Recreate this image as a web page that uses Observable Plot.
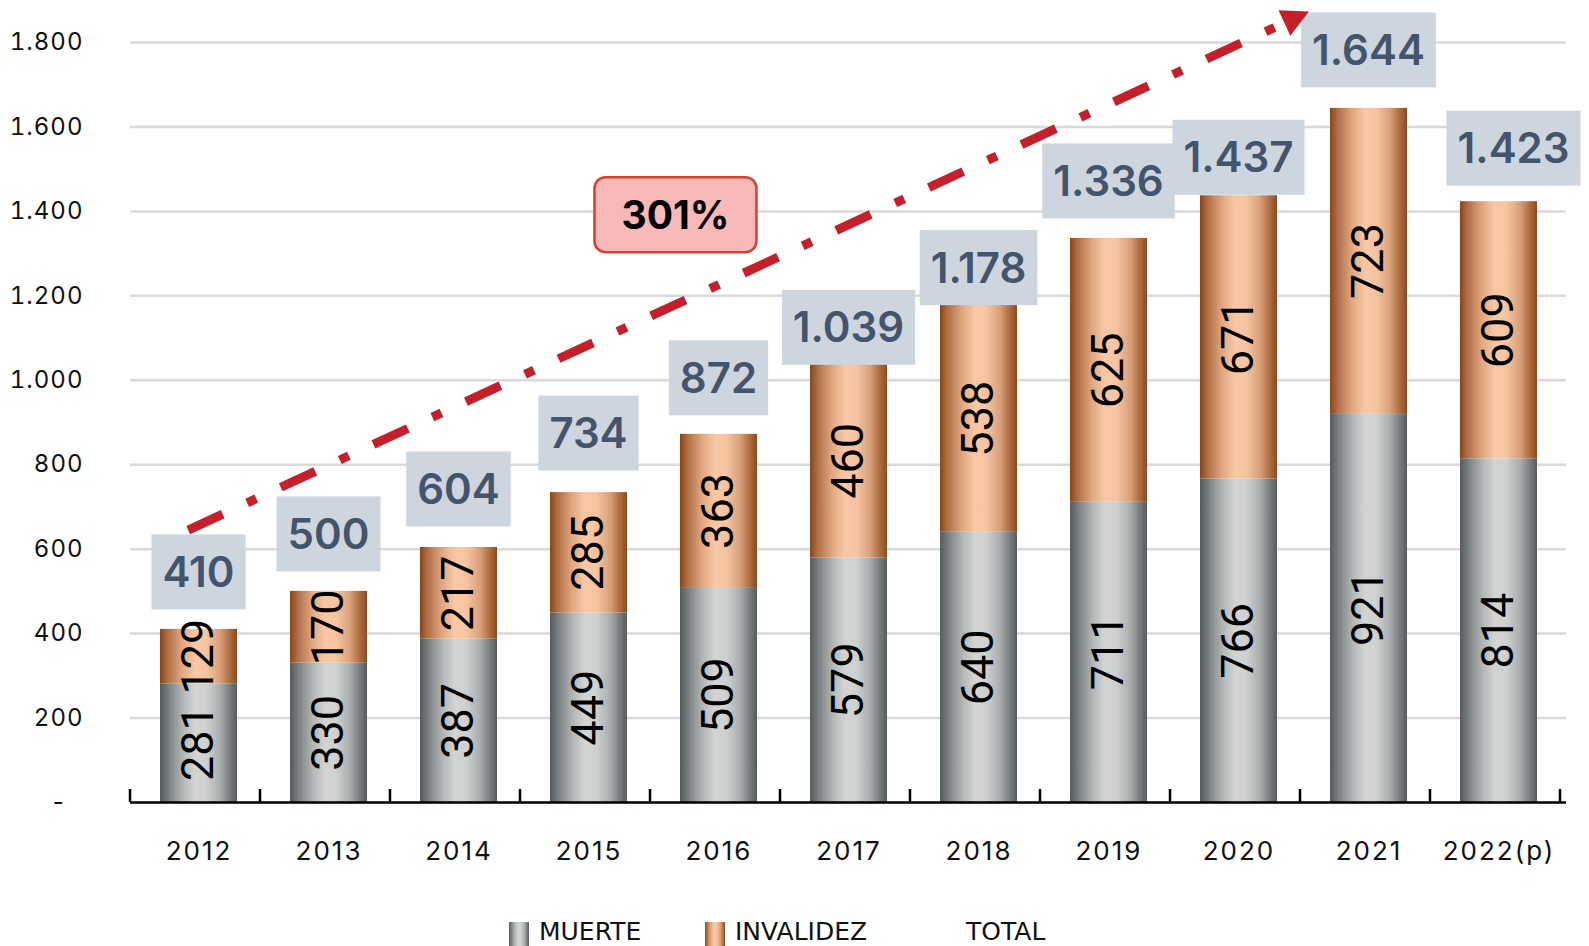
<!DOCTYPE html>
<html>
<head>
<meta charset="utf-8">
<script src="https://cdn.jsdelivr.net/npm/d3@7"></script>
<script src="https://cdn.jsdelivr.net/npm/@observablehq/plot@0.6"></script>
<style>
  html, body { margin: 0; padding: 0; background: #fff; }
  body { width: 1589px; height: 946px; overflow: hidden; position: relative; font-family: Inter, "Open Sans", sans-serif; }
  #chart svg { display: block; }
  g[aria-label="x-axis tick label"] text { letter-spacing: 2px; }
  g[aria-label="y-axis tick label"] text { letter-spacing: 1px; }
  #legend { position: absolute; left: 0; top: 919px; width: 1589px; height: 30px; }
  .lg-item { position: absolute; top: 0; height: 30px; display: flex; align-items: flex-start; }
  .lg-sw { width: 20px; height: 24px; margin-top: 3px; margin-right: 10px; }
  .lg-tx { font-family: "DejaVu Sans", sans-serif; font-size: 25px; line-height: 25px; color: #111; }
</style>
</head>
<body>
<div id="chart"></div>
<div id="legend"></div>
<script>
// ---------- data ----------
const years = ["2012", "2013", "2014", "2015", "2016", "2017", "2018", "2019", "2020", "2021", "2022(p)"];
const muerte = [281, 330, 387, 449, 509, 579, 640, 711, 766, 921, 814];
const invalidez = [129, 170, 217, 285, 363, 460, 538, 625, 671, 723, 609];
const totals = [410, 500, 604, 734, 872, 1039, 1178, 1336, 1437, 1644, 1423];
const yTicks = [0, 200, 400, 600, 800, 1000, 1200, 1400, 1600, 1800];
const legendLabels = ["MUERTE", "INVALIDEZ", "TOTAL"];
const growthText = "301%";
// annotation anchors (category, fraction of a category step from its centre, value)
const arrowStart = {year: "2012", offset: -0.079, value: 644};
const arrowEnd = {year: "2021", offset: -0.458, value: 1872};
const growthAt = {year: "2016", offset: -0.331, value: 1391};

// ---------- layout (pixels, as placed in the original) ----------
const totalLabelGap = [57, 57, 58, 59, 56, 36, 37, 57, 38, 58, 53];
const totalLabelShift = [0, 0, 0, 0, 0, 0, 0, 0, 0, 0, 15];

// ---------- helpers ----------
const NS = "http://www.w3.org/2000/svg";
function el(tag, attrs = {}, text) {
  const e = document.createElementNS(NS, tag);
  for (const k in attrs) e.setAttribute(k, attrs[k]);
  if (text != null) e.textContent = text;
  return e;
}
const fmt = d3.formatLocale({decimal: ",", thousands: ".", grouping: [3], currency: ["", ""]}).format(",d");
const measureCtx = document.createElement("canvas").getContext("2d");

const rows = years.map((year, i) => ({year, muerte: muerte[i], invalidez: invalidez[i], total: totals[i], i}));

const grayStops = [[0, "#545b5d"], [0.12, "#7d8385"], [0.3, "#b3b7b7"], [0.45, "#d2d4d3"], [0.6, "#cfd1d0"], [0.78, "#a9adad"], [0.9, "#7a8082"], [1, "#555c5e"]];
const copperStops = [[0, "#8a4618"], [0.1, "#b06f45"], [0.28, "#dfa57f"], [0.45, "#f8c8a6"], [0.6, "#f6c4a1"], [0.78, "#d9a07a"], [0.9, "#b06e43"], [1, "#8c4a1c"]];

function defsMark() {
  const g = el("g");
  const defs = el("defs");
  for (const [id, stops] of [["gradMuerte", grayStops], ["gradInval", copperStops]]) {
    const lg = el("linearGradient", {id, x1: "0", y1: "0", x2: "1", y2: "0"});
    for (const [o, c] of stops) lg.appendChild(el("stop", {offset: o, "stop-color": c}));
    defs.appendChild(lg);
  }
  g.appendChild(defs);
  return g;
}

function tickMarks(index, {x, y}) {
  const g = el("g", {stroke: "#000", "stroke-width": 2.5});
  const r0 = x.range()[0], step = x.step(), y0 = y(0);
  for (let i = 0; i <= years.length; i++) {
    const xx = r0 + i * step;
    g.appendChild(el("line", {x1: xx, x2: xx, y1: y0, y2: y0 - 13}));
  }
  return g;
}

function totalsMark(index, {x, y}) {
  const g = el("g");
  const bw = x.bandwidth();
  measureCtx.font = "600 42px Inter";
  rows.forEach(d => {
    const label = fmt(d.total);
    const cx = x(d.year) + bw / 2 + totalLabelShift[d.i];
    const cy = y(d.total) - totalLabelGap[d.i];
    const w = measureCtx.measureText(label).width + 22;
    g.appendChild(el("rect", {x: cx - w / 2, y: cy - 37.5, width: w, height: 75, fill: "#cdd5df"}));
    g.appendChild(el("text", {x: cx, y: cy + 15, "text-anchor": "middle", "font-family": "Inter, sans-serif", "font-weight": 600, "font-size": 42, fill: "#44546a"}, label));
  });
  return g;
}

function anchorX(x, p) { return x(p.year) + x.bandwidth() / 2 + p.offset * x.step(); }

function arrowMark(index, {x, y}) {
  const g = el("g");
  const x0 = anchorX(x, arrowStart), y0 = y(arrowStart.value);
  const x1 = anchorX(x, arrowEnd), y1 = y(arrowEnd.value);
  const a = Math.atan2(y1 - y0, x1 - x0), c = Math.cos(a), s = Math.sin(a);
  const L = 27, hw = 14;
  const bx = x1 - L * c, by = y1 - L * s;
  g.appendChild(el("line", {x1: x0, y1: y0, x2: bx, y2: by, stroke: "#c41f2b", "stroke-width": 9, "stroke-dasharray": "38,27,10,27", "stroke-linecap": "butt"}));
  g.appendChild(el("polygon", {points: `${x1},${y1} ${bx - hw * s},${by + hw * c} ${bx + hw * s},${by - hw * c}`, fill: "#c41f2b"}));
  return g;
}

function growthMark(index, {x, y}) {
  const g = el("g");
  const cx = anchorX(x, growthAt), cy = y(growthAt.value);
  g.appendChild(el("rect", {x: cx - 81, y: cy - 37.5, width: 162, height: 75, rx: 11, ry: 11, fill: "#f8b8b8", stroke: "#d2432f", "stroke-width": 2.5}));
  g.appendChild(el("text", {x: cx, y: cy + 14, "text-anchor": "middle", "font-family": "Inter, sans-serif", "font-weight": 700, "font-size": 39, fill: "#000"}, growthText));
  return g;
}

const barLabelFont = "Roboto, 'Liberation Sans', sans-serif";

const chart = Plot.plot({
  width: 1589,
  height: 880,
  marginLeft: 130,
  marginRight: 23,
  marginTop: 42,
  marginBottom: 78,
  x: {domain: years, paddingInner: 0.41, paddingOuter: 0.205, label: null},
  y: {domain: [0, 1800], label: null},
  style: {fontFamily: "Inter, sans-serif", background: "#fff", overflow: "visible", color: "#111"},
  marks: [
    defsMark,
    Plot.gridY(yTicks.filter(d => d > 0), {stroke: "#d9d9d9", strokeOpacity: 1, strokeWidth: 2.5}),
    Plot.axisY(yTicks, {tickSize: 0, tickPadding: 47, fontSize: 24, tickFormat: d => d === 0 ? "-\u2007" : fmt(d), fill: "#111"}),
    Plot.axisX({tickSize: 0, tickPadding: 39, fontSize: 26, fill: "#111"}),
    Plot.barY(rows, {x: "year", y1: 0, y2: "muerte", fill: "url(#gradMuerte)"}),
    Plot.barY(rows, {x: "year", y1: "muerte", y2: d => d.muerte + d.invalidez, fill: "url(#gradInval)"}),
    Plot.text(rows, {x: "year", y: d => d.muerte / 2, text: d => fmt(d.muerte), rotate: -90, fontSize: 45, fontFamily: barLabelFont, fill: "#000"}),
    Plot.text(rows, {x: "year", y: d => d.muerte + d.invalidez / 2, text: d => fmt(d.invalidez), rotate: -90, fontSize: 45, fontFamily: barLabelFont, fill: "#000"}),
    Plot.ruleY([0], {stroke: "#000", strokeWidth: 2.5}),
    tickMarks,
    totalsMark,
    arrowMark,
    growthMark
  ]
});
document.getElementById("chart").appendChild(chart);

// ---------- legend ----------
const legendCss = {
  MUERTE: `linear-gradient(to right, ${grayStops.map(([o, c]) => `${c} ${o * 100}%`).join(", ")})`,
  INVALIDEZ: `linear-gradient(to right, ${copperStops.map(([o, c]) => `${c} ${o * 100}%`).join(", ")})`,
  TOTAL: null
};
const legendLeft = [509, 705, 966];
const legend = document.getElementById("legend");
legendLabels.forEach((lab, i) => {
  const item = document.createElement("div");
  item.className = "lg-item";
  item.style.left = legendLeft[i] + "px";
  if (legendCss[lab]) {
    const sw = document.createElement("div");
    sw.className = "lg-sw";
    sw.style.background = legendCss[lab];
    item.appendChild(sw);
  }
  const tx = document.createElement("div");
  tx.className = "lg-tx";
  tx.textContent = lab;
  item.appendChild(tx);
  legend.appendChild(item);
});
</script>
</body>
</html>
